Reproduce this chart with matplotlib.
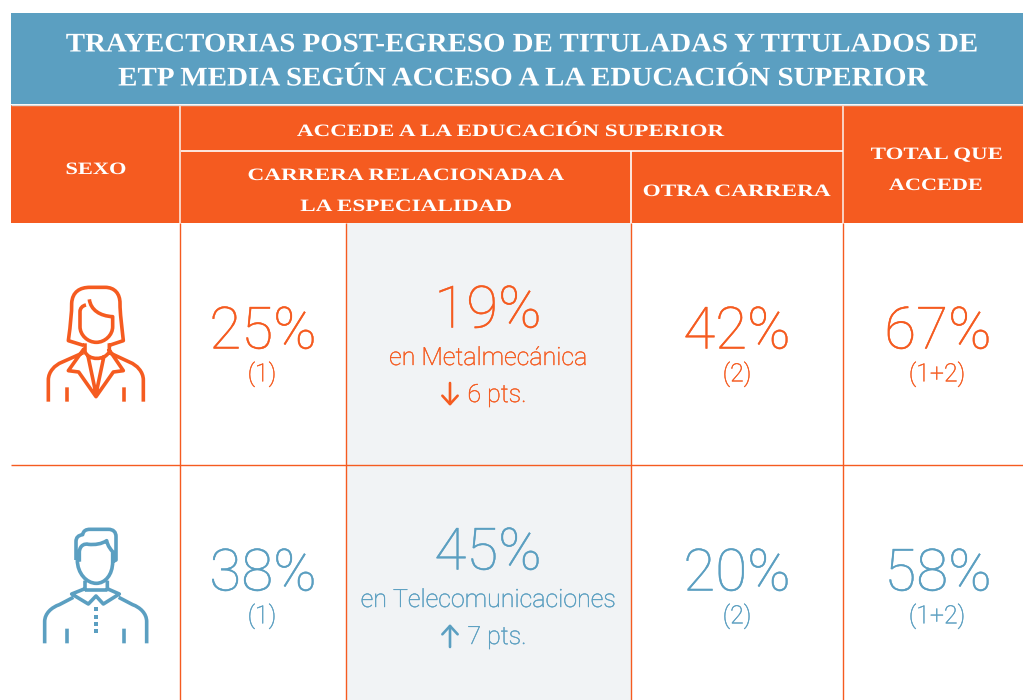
import matplotlib
matplotlib.use("Agg")
import matplotlib.pyplot as plt
from matplotlib.patches import Rectangle, PathPatch
from matplotlib.path import Path
from matplotlib.patheffects import AbstractPathEffect, Stroke, Normal
from matplotlib.transforms import Affine2D

BLUE = "#5b9fc1"
ORANGE = "#f55b20"
GRAY = "#f1f3f5"
SANS = ["Roboto", "DejaVu Sans"]
SERIF = ["Liberation Serif", "DejaVu Serif"]

title_lines = ["TRAYECTORIAS POST-EGRESO DE TITULADAS Y TITULADOS DE",
               "ETP MEDIA SEGÚN ACCESO A LA EDUCACIÓN SUPERIOR"]
header_sexo = "SEXO"
header_accede = "ACCEDE A LA EDUCACIÓN SUPERIOR"
header_rel = ["CARRERA RELACIONADA A", "LA ESPECIALIDAD"]
header_otra = "OTRA CARRERA"
header_total = ["TOTAL QUE", "ACCEDE"]

pct_related = ["25%", "38%"]
pct_field = ["19%", "45%"]
field_names = ["en Metalmecánica", "en Telecomunicaciones"]
field_change = ["6 pts.", "7 pts."]
field_arrows = ["down", "up"]
pct_other = ["42%", "20%"]
pct_total = ["67%", "58%"]
row_colors = [ORANGE, BLUE]

fig = plt.figure(figsize=(10.23, 7.0), dpi=100)
ax = fig.add_axes([0, 0, 1, 1])
ax.set_xlim(0, 1023)
ax.set_ylim(700, 0)
ax.axis("off")


class StretchX(AbstractPathEffect):
    """Widen glyphs about a centre, standing in for the original letter-spacing."""

    def __init__(self, cx, k):
        super().__init__()
        self.cx, self.k = cx, k

    def draw_path(self, renderer, gc, tpath, affine, rgbFace=None):
        stretch = Affine2D().translate(-self.cx, 0).scale(self.k, 1).translate(self.cx, 0)
        renderer.draw_path(gc, tpath, affine + stretch, rgbFace)


def rect(x0, y0, x1, y1, c, z=1):
    ax.add_patch(Rectangle((x0, y0), x1 - x0, y1 - y0, fc=c, ec="none", zorder=z))


def line(x0, y0, x1, y1, c, lw=1.0, z=3):
    ax.plot([x0, x1], [y0, y1], color=c, lw=lw, solid_capstyle="butt", zorder=z)


def serif(x, y, s, size, k):
    ax.text(x, y, s, family=SERIF, weight="bold", fontsize=size, color="white",
            ha="center", va="center", zorder=5, path_effects=[StretchX(x, k)])


def sans(x, y, s, size, c, stroke=0.3):
    ax.text(x, y, s, family=SANS, weight="light", fontsize=size, color=c,
            ha="center", va="center", zorder=5,
            path_effects=[Stroke(linewidth=stroke, foreground=c), Normal()])


# backgrounds
rect(11, 13, 1023, 104, BLUE)
rect(11, 105, 1023, 223, ORANGE)
rect(347, 223, 631, 700, GRAY)
line(11, 104.5, 1023, 104.5, "#d9d9d9", 1.0)

# header rules
for x in (180, 843):
    line(x, 105, x, 223, "#fbd3c2", 1.4)
line(181, 151, 843, 151, "white", 1.2)
line(631, 151, 631, 223, "white", 1.2)

# body rules
for x in (180, 346, 631, 843):
    line(x, 223, x, 700, ORANGE, 1.0)
line(11, 465, 1023, 465, ORANGE, 1.0)

# header text
serif(521, 45, title_lines[0], 19.4, 1.072)
serif(522, 79, title_lines[1], 19.4, 1.078)
serif(96, 170, header_sexo, 12.5, 1.29)
serif(511, 132, header_accede, 12.5, 1.33)
serif(406, 176, header_rel[0], 12.5, 1.34)
serif(406, 207, header_rel[1], 12.5, 1.335)
serif(737, 192, header_otra, 12.5, 1.34)
serif(937, 155, header_total[0], 12.5, 1.32)
serif(936, 186, header_total[1], 12.5, 1.28)


def icon(segs, ox, oy, c, lw=2.6):
    verts, codes = [], []
    for seg in segs:
        verts.append(seg[0]); codes.append(Path.MOVETO)
        for p in seg[1:]:
            if len(p) == 2:
                verts.append(p); codes.append(Path.LINETO)
            else:
                verts += [p[:2], p[2:4], p[4:6]]
                codes += [Path.CURVE4] * 3
    verts = [(ox + v[0] / 3, oy + v[1] / 3) for v in verts]
    ax.add_patch(PathPatch(Path(verts, codes), fc="none", ec=c, lw=lw, capstyle="butt",
                           joinstyle="round", zorder=4))


woman = [
    [(190, 226), (145, 212), (152, 160, 155, 130, 155, 100), (157, 65, 180, 52, 210, 52), (255, 52),
     (285, 52, 300, 72, 300, 100), (300, 130, 305, 165, 310, 212), (268, 226)],
    [(208, 88), (212, 120, 240, 138, 278, 140), (278, 170), (278, 195, 255, 217, 229, 217),
     (203, 217, 180, 195, 180, 170), (180, 125), (180, 115, 187, 107, 198, 105)],
    [(195, 220), (195, 245), (205, 272, 255, 272, 268, 245), (268, 220)],
    [(85, 395), (85, 330), (85, 305, 105, 285, 125, 277), (190, 248)],
    [(370, 395), (370, 330), (370, 305, 350, 285, 330, 277), (268, 248)],
    [(192, 236), (145, 302), (176, 306), (228, 380), (280, 306), (310, 302), (265, 236)],
    [(204, 258), (228, 372), (252, 258)],
    [(141, 352), (141, 395)],
    [(312, 352), (312, 395)],
]
man = [
    [(168, 150), (168, 95), (168, 82, 175, 76, 188, 74), (190, 62, 198, 58, 210, 58), (265, 58),
     (280, 58, 288, 66, 288, 80), (288, 150), (278, 155)],
    [(178, 155), (178, 125), (180, 105, 195, 100, 205, 103), (225, 105, 245, 102, 260, 92),
     (264, 110, 272, 118, 278, 125), (278, 155), (278, 195, 255, 220, 229, 220),
     (200, 220, 172, 190, 172, 150)],
    [(195, 212), (195, 238), (190, 238), (155, 252), (205, 282), (228, 258), (250, 282), (298, 252), (266, 238),
     (262, 238), (262, 212)],
    [(195, 240), (262, 240)],
    [(74, 400), (74, 335), (74, 310, 95, 292, 118, 284), (160, 262)],
    [(380, 400), (380, 335), (380, 310, 360, 292, 338, 284), (296, 262)],
    [(141, 356), (141, 400)],
    [(312, 356), (312, 400)],
]
icon(woman, 20, 270, ORANGE)
icon(man, 20, 510, BLUE)
for yy in (296, 320, 342, 362):
    rect(20 + 222 / 3, 510 + (yy - 6) / 3, 20 + 234 / 3, 510 + (yy + 6) / 3, BLUE, 4)

# body text
row_y = [333, 575]
sub_y = [374, 616]
field_y = [312, 554]
name_y = [358, 600]
chg_y = [395, 637]
for i, c in enumerate(row_colors):
    sans(263, row_y[i], pct_related[i], 42, c)
    sans(262, sub_y[i], "(1)", 18, c)
    sans(488, field_y[i], pct_field[i], 42, c)
    sans(488, name_y[i], field_names[i], 18, c)
    sans(497, chg_y[i], field_change[i], 18, c)
    x0 = 450
    tip, tail = (chg_y[i] + 11, chg_y[i] - 12) if field_arrows[i] == "down" else (chg_y[i] - 13, chg_y[i] + 10)
    ax.annotate("", xy=(x0, tip), xytext=(x0, tail),
                arrowprops=dict(arrowstyle="->,head_width=0.55,head_length=0.6", color=c, lw=1.9,
                                shrinkA=0, shrinkB=0), zorder=5)
    sans(737, row_y[i], pct_other[i], 42, c)
    sans(737, sub_y[i], "(2)", 18, c)
    sans(938, row_y[i], pct_total[i], 42, c)
    sans(937, sub_y[i], "(1+2)", 18, c)

fig.savefig("out.png", dpi=100)
